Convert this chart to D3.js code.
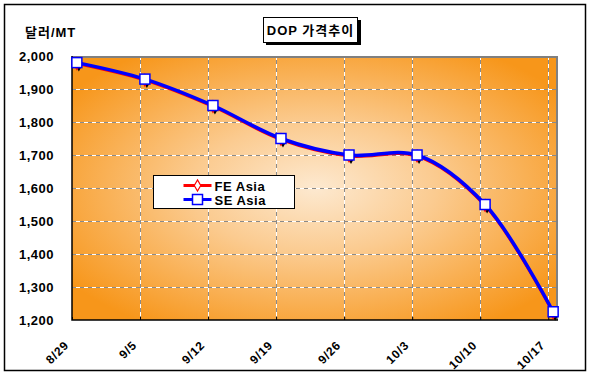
<!DOCTYPE html>
<html>
<head>
<meta charset="utf-8">
<script src="https://cdn.jsdelivr.net/npm/d3@7"></script>
<style>
body { margin: 0; background: #fff; }
text { font-family: "Liberation Sans", Arial, "Noto Sans CJK KR", sans-serif; font-weight: bold; }
</style>
</head>
<body>
<div id="chart-area"></div>
<script>
// data
var dates = ["2008-08-29", "2008-09-05", "2008-09-12", "2008-09-19", "2008-09-26", "2008-10-03", "2008-10-10", "2008-10-17"];
var tickLabels = ["8/29", "9/5", "9/12", "9/19", "9/26", "10/3", "10/10", "10/17"];
var seAsia = [1980, 1930, 1850, 1750, 1700, 1700, 1550, 1225];
var feAsia = [1977, 1927, 1847, 1747, 1697, 1697, 1547, 1222];
var yTicks = [1200, 1300, 1400, 1500, 1600, 1700, 1800, 1900, 2000];

var W = 591, H = 376;
var plot = {left: 72, top: 56, right: 558, bottom: 320};
var parse = d3.timeParse("%Y-%m-%d");
var days = dates.map(parse);

var svg = d3.select("#chart-area").append("svg")
  .attr("width", W)
  .attr("height", H);

// outer frame
svg.append("rect")
  .attr("x", 4.5).attr("y", 4.5)
  .attr("width", 581).attr("height", 366)
  .attr("fill", "#fff")
  .attr("stroke", "#000")
  .attr("stroke-width", 1.5);

var x = d3.scaleTime()
  .domain([days[0], d3.timeDay.offset(days[days.length - 1], 1)])
  .range([plot.left, plot.right]);
var y = d3.scaleLinear().domain([1200, 2000]).range([plot.bottom, plot.top]);
// points sit in the middle of their day slot
var px = (d) => x(d3.timeHour.offset(d, 12));

var defs = svg.append("defs");
var grad = defs.append("radialGradient")
  .attr("id", "bg")
  .attr("cx", "0.5").attr("cy", "0.5").attr("r", "0.62");
grad.append("stop").attr("offset", "0").attr("stop-color", "#fde9d0");
grad.append("stop").attr("offset", "0.4").attr("stop-color", "#fbcb90");
grad.append("stop").attr("offset", "1").attr("stop-color", "#f7961a");

svg.append("rect")
  .attr("x", plot.left).attr("y", plot.top)
  .attr("width", plot.right - plot.left).attr("height", plot.bottom - plot.top)
  .attr("fill", "url(#bg)");

// gridlines
var g = svg.append("g");
yTicks.slice(1, -1).forEach((v) => {
  [["#fff", null], ["#8a8a8a", "4,4"]].forEach((s) => {
    g.append("line")
      .attr("x1", plot.left).attr("x2", plot.right)
      .attr("y1", Math.round(y(v)) + 0.5).attr("y2", Math.round(y(v)) + 0.5)
      .attr("stroke", s[0]).attr("stroke-dasharray", s[1]);
  });
});
days.slice(1).forEach((d) => {
  [["#8a8a8a", null], ["#fff", "4,4"]].forEach((s) => {
    g.append("line")
      .attr("x1", Math.round(x(d)) + 0.5).attr("x2", Math.round(x(d)) + 0.5)
      .attr("y1", plot.top).attr("y2", plot.bottom)
      .attr("stroke", s[0]).attr("stroke-dasharray", s[1]);
  });
});

// plot border: grey top/right, black axes
svg.append("path")
  .attr("d", "M" + plot.left + "," + (plot.top + 1) + "H" + (plot.right - 1) + "V" + plot.bottom)
  .attr("fill", "none").attr("stroke", "#808080").attr("stroke-width", 2);
svg.append("path")
  .attr("d", "M" + plot.left + "," + plot.top + "V" + plot.bottom + "H" + plot.right)
  .attr("fill", "none").attr("stroke", "#000").attr("stroke-width", 1.5);

// y axis labels
var yAxis = d3.axisLeft(y).tickValues(yTicks).tickSize(0).tickPadding(18).tickFormat(d3.format(","));
var yAxisGroup = svg.append("g")
  .attr("transform", "translate(" + plot.left + ",0)")
  .call(yAxis);
yAxisGroup.select(".domain").remove();
yAxisGroup.selectAll("text")
  .attr("font-size", "13px")
  .attr("font-family", "Liberation Sans, Arial, sans-serif")
  .attr("font-weight", "bold")
  .attr("letter-spacing", "0.5px")
  .attr("fill", "#000");

// x axis ticks (pointing inward) and rotated labels
var xAxis = d3.axisBottom(x).tickValues(days).tickSize(-3).tickFormat((d, i) => tickLabels[i]);
var xAxisGroup = svg.append("g")
  .attr("transform", "translate(0," + plot.bottom + ")")
  .call(xAxis);
xAxisGroup.select(".domain").remove();
xAxisGroup.selectAll(".tick line").attr("stroke", "#000");
xAxisGroup.selectAll("text")
  .attr("font-size", "12px")
  .attr("font-family", "Liberation Sans, Arial, sans-serif")
  .attr("font-weight", "bold")
  .attr("letter-spacing", "0.8px")
  .attr("fill", "#000")
  .attr("text-anchor", "end")
  .attr("transform", "translate(-3,26) rotate(-45)")
  .attr("x", 0).attr("y", 0).attr("dy", 0);

// lines
var line = (vals) => d3.line()
  .x((d, i) => px(days[i]))
  .y((d) => y(d))
  .curve(d3.curveCatmullRom.alpha(0.5))(vals);

svg.append("path")
  .attr("d", line(feAsia))
  .attr("fill", "none").attr("stroke", "#ff0000").attr("stroke-width", 3);
svg.append("path")
  .attr("d", line(seAsia))
  .attr("fill", "none").attr("stroke", "#0000ff").attr("stroke-width", 3.5);

// FE Asia markers: little dark shadow + red diamond
var diamond = d3.symbol().type(d3.symbolDiamond).size(40);
svg.selectAll(".shadow").data(feAsia).enter().append("path")
  .attr("class", "shadow")
  .attr("d", diamond)
  .attr("transform", (d, i) => "translate(" + (px(days[i]) + 2) + "," + (y(d) + 2) + ")")
  .attr("fill", "#000");
svg.selectAll(".fe").data(feAsia).enter().append("path")
  .attr("class", "fe")
  .attr("d", diamond)
  .attr("transform", (d, i) => "translate(" + px(days[i]) + "," + y(d) + ")")
  .attr("fill", "#fff").attr("stroke", "#ff0000").attr("stroke-width", 1.2);

// SE Asia markers
svg.selectAll(".se").data(seAsia).enter().append("rect")
  .attr("class", "se")
  .attr("x", (d, i) => px(days[i]) - 5)
  .attr("y", (d) => y(d) - 5)
  .attr("width", 10).attr("height", 10)
  .attr("fill", "#fff").attr("stroke", "#0000ff").attr("stroke-width", 1.5);

// unit label
svg.append("text")
  .attr("x", 25).attr("y", 37)
  .attr("font-size", "13px")
  .attr("letter-spacing", "1px")
  .text("달러/MT");

// title box with shadow
svg.append("rect")
  .attr("x", 266).attr("y", 20).attr("width", 95).attr("height", 25)
  .attr("fill", "#000");
svg.append("rect")
  .attr("x", 263.5).attr("y", 17.5).attr("width", 94).attr("height", 25)
  .attr("fill", "#fff").attr("stroke", "#000").attr("stroke-width", 1);
svg.append("text")
  .attr("x", 310.5).attr("y", 35)
  .attr("text-anchor", "middle")
  .attr("font-size", "13px")
  .attr("letter-spacing", "1px")
  .text("DOP 가격추이");

// legend
var legend = svg.append("g").attr("transform", "translate(153.5,175.5)");
legend.append("rect")
  .attr("width", 141).attr("height", 33)
  .attr("fill", "#fff").attr("stroke", "#000").attr("stroke-width", 1);
var series = [
  {name: "FE Asia", color: "#ff0000", symbol: "diamond"},
  {name: "SE Asia", color: "#0000ff", symbol: "square"}
];
series.forEach((s, i) => {
  var ly = 10 + i * 14;
  legend.append("line")
    .attr("x1", 30).attr("x2", 58).attr("y1", ly).attr("y2", ly)
    .attr("stroke", s.color).attr("stroke-width", 3);
  if (s.symbol === "diamond") {
    legend.append("path")
      .attr("d", d3.symbol().type(d3.symbolDiamond).size(36))
      .attr("transform", "translate(44," + ly + ")")
      .attr("fill", "#fff").attr("stroke", s.color).attr("stroke-width", 1.2);
  } else {
    legend.append("rect")
      .attr("x", 39).attr("y", ly - 5).attr("width", 10).attr("height", 10)
      .attr("fill", "#fff").attr("stroke", s.color).attr("stroke-width", 1.5);
  }
  legend.append("text")
    .attr("x", 61).attr("y", ly + 5)
    .attr("font-size", "13px")
    .attr("letter-spacing", "0.5px")
    .text(s.name);
});
</script>
</body>
</html>
